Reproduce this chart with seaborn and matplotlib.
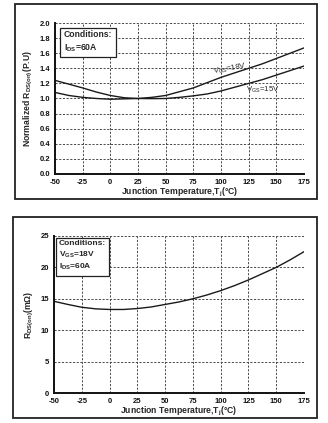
import matplotlib
matplotlib.use("Agg")
import matplotlib.pyplot as plt
import seaborn as sns
import pandas as pd
from matplotlib.patches import Rectangle

# ---- data ----
temps = [-50, -37.5, -25, -12.5, 0, 12.5, 25, 37.5, 50, 62.5, 75, 87.5,
         100, 112.5, 125, 137.5, 150, 162.5, 175]
norm_18v = [1.24, 1.19, 1.14, 1.085, 1.04, 1.01, 1.00, 1.015, 1.04, 1.09, 1.14, 1.21,
            1.28, 1.34, 1.40, 1.46, 1.53, 1.60, 1.67]
norm_15v = [1.08, 1.04, 1.015, 1.0, 0.99, 0.995, 1.00, 0.998, 1.00, 1.015, 1.035, 1.06,
            1.10, 1.15, 1.20, 1.25, 1.31, 1.37, 1.43]
rds_18v = [14.6, 14.1, 13.65, 13.4, 13.3, 13.3, 13.45, 13.7, 14.1, 14.5, 15.0, 15.6,
           16.3, 17.1, 18.0, 19.0, 20.0, 21.2, 22.5]

x_ticks = [-50, -25, 0, 25, 50, 75, 100, 125, 150, 175]
y1_ticks = [0.0, 0.2, 0.4, 0.6, 0.8, 1.0, 1.2, 1.4, 1.6, 1.8, 2.0]
y2_ticks = [0, 5, 10, 15, 20, 25]

sns.set_style("white")
FONT = ['Liberation Sans Narrow', 'Liberation Sans', 'DejaVu Sans']
plt.rcParams['font.family'] = FONT
plt.rcParams['mathtext.default'] = 'regular'

fig = plt.figure(figsize=(3.28, 4.23), dpi=100)
fig.patch.set_facecolor("white")

ax1 = fig.add_axes([0.1677, 0.5887, 0.7591, 0.3569])
ax2 = fig.add_axes([0.1646, 0.0709, 0.7622, 0.3712])

# panel borders
for (x0, y0, w, h) in [(0.0457, 0.5284, 0.9207, 0.4622), (0.0406, 0.0130, 0.9258, 0.4740)]:
    fig.patches.append(Rectangle((x0, y0), w, h, transform=fig.transFigure,
                                 fill=False, edgecolor="#222222", linewidth=1.3))

df1 = pd.DataFrame({"T": temps + temps,
                    "R": norm_18v + norm_15v,
                    "s": ["18V"] * len(temps) + ["15V"] * len(temps)})
sns.lineplot(data=df1, x="T", y="R", units="s", estimator=None, color="#1a1a1a",
             linewidth=1.0, ax=ax1, legend=False)

df2 = pd.DataFrame({"T": temps, "R": rds_18v})
sns.lineplot(data=df2, x="T", y="R", color="#1a1a1a", linewidth=1.0, ax=ax2, legend=False)

def style(ax, yticks, ylim, ylabel, fmt):
    ax.set_xlim(-50, 175)
    ax.set_ylim(*ylim)
    ax.set_xticks(x_ticks)
    ax.set_xticklabels([str(t) for t in x_ticks])
    ax.set_yticks(yticks)
    ax.set_yticklabels([fmt.format(v) for v in yticks])
    ax.grid(True, linestyle=(0, (2.2, 1.6)), color="#4a4a4a", linewidth=0.7)
    ax.set_axisbelow(True)
    for s in ["top", "right"]:
        ax.spines[s].set_visible(False)
    for s in ["left", "bottom"]:
        ax.spines[s].set_linewidth(1.4)
        ax.spines[s].set_color("#111111")
    ax.tick_params(axis="both", direction="inout", length=3, width=0.8,
                   labelsize=5.5, pad=2, colors="#111111")
    for lab in ax.get_xticklabels() + ax.get_yticklabels():
        lab.set_fontweight("bold")
    ax.set_xlabel("Junction Temperature,T$_j$(\u00b0C)", fontsize=6.2, fontweight="bold", labelpad=0)
    ax.set_ylabel(ylabel, fontsize=6.2, fontweight="bold", labelpad=3)

style(ax1, y1_ticks, (0, 2.0), "Normalized R$_{DS(on)}$(P.U)", "{:.1f}")
style(ax2, y2_ticks, (0, 25), "R$_{DS(on)}$(m\u03a9)", "{:d}")

box = dict(boxstyle="square,pad=0.4", facecolor="white", edgecolor="#222222", linewidth=0.9)
ax1.text(0.035, 0.955, "Conditions:\nI$_{DS}$=60A", transform=ax1.transAxes,
         fontsize=6.2, fontweight="bold", va="top", ha="left", bbox=box, linespacing=1.4)
ax2.text(0.02, 0.975, "Conditions:\nV$_{GS}$=18V\nI$_{DS}$=60A", transform=ax2.transAxes,
         fontsize=6.0, fontweight="bold", va="top", ha="left", bbox=box, linespacing=1.35)

ax1.text(108, 1.29, "V$_{GS}$=18V", fontsize=5.6, ha="center", va="bottom", rotation=10)
ax1.text(138, 1.04, "V$_{GS}$=15V", fontsize=5.6, ha="center", va="bottom")

fig.savefig("out.png", dpi=100, facecolor="white")
